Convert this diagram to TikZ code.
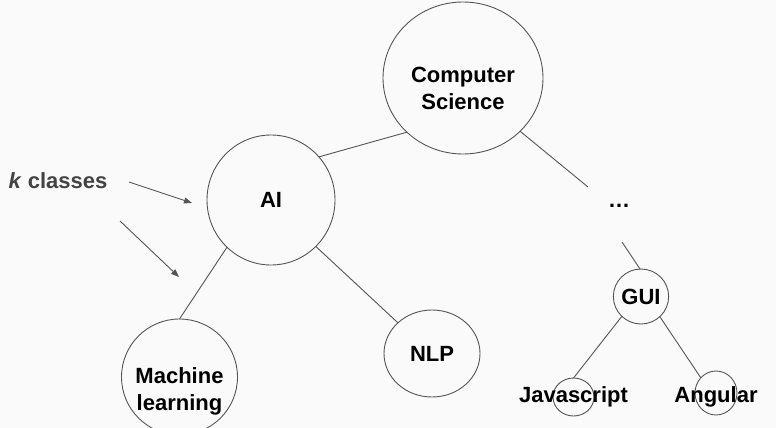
\documentclass[tikz,border=0pt]{standalone}
\usepackage{fontspec}
\setmainfont{Liberation Sans}
\usetikzlibrary{shapes.geometric,arrows.meta}
\definecolor{edgegray}{HTML}{555555}
\definecolor{labelgray}{HTML}{434343}
\definecolor{slidebg}{HTML}{FAFAFA}
\newcommand*\topicfont{\fontsize{22pt}{27pt}\selectfont\bfseries}
\newcommand*\edgewidth{0.9pt}
\tikzset{
    topic/.style     = {draw=edgegray, ellipse, line width=\edgewidth,
                        inner sep=0pt, outer sep=0pt},
    topictext/.style = {font=\topicfont, align=center},
    link/.style      = {draw=edgegray, line width=\edgewidth},
    pointer/.style   = {link, -{Triangle[length=8pt,width=6pt]}},
  }

\begin{document}
\begin{tikzpicture}[x=1pt,y=-1pt]
      % slide background, same size as the reference
      \fill[slidebg] (0,0) rectangle (776,428);
      \useasboundingbox (0,0) rectangle (776,428);
      \clip (0,0) rectangle (776,428);

      % the tree: root and first level
      \node (cs)  [topic, minimum width=160pt, minimum height=152pt,
                   label={[topictext, yshift=-10.5pt]center:{Computer\\Science}}] at (463,78) {};
      \node (ai)  [topic, topictext, minimum width=128pt, minimum height=130pt] at (271,200) {AI};
      \node (dots)[topictext, anchor=base] at (619,207) {\dots};

      % second level
      \node (ml)  [topic, minimum width=116pt, minimum height=116pt,
                   label={[topictext, yshift=-14pt]center:{Machine\\learning}}] at (179.5,377) {};
      \node (nlp) [topic, topictext, minimum width=96pt, minimum height=87pt] at (432,353.5) {NLP};
      \node (gui) [topic, topictext, minimum width=54pt, minimum height=55pt] at (641,296.5) {GUI};

      % leaves under GUI, text wider than the circle
      \node (js)  [topic, minimum width=41pt, minimum height=38pt,
                   label={[topictext]center:Javascript}] at (573.5,397) {};
      \node (ng)  [topic, minimum width=42pt, minimum height=44pt,
                   label={[topictext, yshift=-4pt]center:Angular}] at (716,393) {};

      % free ends round the dots
      \coordinate (dotstop) at (588,187);
      \coordinate (dotsbot) at (622,242);

      % edges of the tree
      \draw[link] (cs.224)  -- (ai.42);
      \draw[link] (cs.317)  -- (dotstop);
      \draw[link] (dotsbot) -- (gui.92);
      \draw[link] (ai.227)  -- (ml.90);
      \draw[link] (ai.314)  -- (nlp.138);
      \draw[link] (gui.226) -- (js.90);
      \draw[link] (gui.313) -- (ng.135);

      % k classes and its two arrows
      \node (kcls) [font=\topicfont, text=labelgray, anchor=base west] at (5,188)
            {\textit{k} classes};
      \coordinate (kfrom1) at (129,182);
      \coordinate (kto1)   at (192,203);
      \coordinate (kfrom2) at (120,221);
      \coordinate (kto2)   at (179,277);
      \draw[pointer] (kfrom1) -- (kto1);
      \draw[pointer] (kfrom2) -- (kto2);
    \end{tikzpicture}
\end{document}
